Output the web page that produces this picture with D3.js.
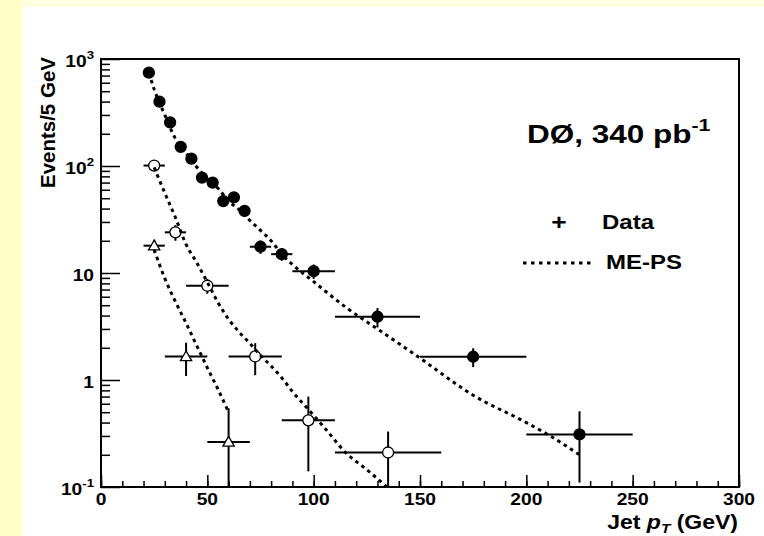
<!DOCTYPE html>
<html>
<head>
<meta charset="utf-8">
<script src="https://cdn.jsdelivr.net/npm/d3@7"></script>
<style>
  body { margin: 0; background: #fff; }
  svg { display: block; font-family: "Liberation Sans", Arial, sans-serif; font-weight: bold; }
</style>
</head>
<body>
<svg id="chart" width="764" height="536"></svg>
<script>
// leading jet (filled circles)
const jet1X = [22.5, 27.5, 32.5, 37.5, 42.5, 47.5, 52.5, 57.5, 62.5, 67.5, 75, 85, 100, 130, 175, 225]
const jet1XErr = [2.5, 2.5, 2.5, 2.5, 2.5, 2.5, 2.5, 2.5, 2.5, 2.5, 5, 5, 10, 20, 25, 25]
const jet1Y = [745, 399, 256, 151, 117, 78, 70, 47, 51, 38, 17.6, 15, 10.4, 3.9, 1.65, 0.31]
const jet1YErr = [20, 14, 11, 9, 8, 6, 6, 5, 5, 4.5, 2.5, 2, 1.6, 0.8, 0.33, 0.2]

// second jet (open circles)
const jet2X = [25, 35, 50, 72.5, 97.5, 135]
const jet2XErr = [5, 5, 10, 12.5, 12.5, 25]
const jet2Y = [101, 24, 7.6, 1.66, 0.42, 0.21]
const jet2YErr = [9, 4, 1.2, 0.55, 0.28, 0.12]

// third jet (open triangles)
const jet3X = [25, 40, 60]
const jet3XErr = [5, 10, 10]
const jet3Y = [18, 1.66, 0.264]
const jet3YErr = [2.5, 0.57, 0.28]

// ME-PS predictions
const meps1X = [22.5, 25, 30, 35, 40, 45, 50, 55, 60, 65, 70, 75, 80, 85, 90, 100, 115, 130, 150, 175, 200, 210, 225]
const meps1Y = [745, 520, 300, 180, 132, 98, 76, 62, 47, 39, 31, 25, 20, 15, 12, 8.3, 4.8, 3.0, 1.6, 0.72, 0.40, 0.31, 0.20]
const meps2X = [25, 30, 35, 40, 45, 50, 55, 60, 65, 70, 75, 80, 85, 90, 97.5, 105, 115, 125, 135]
const meps2Y = [97, 56, 33, 18.5, 12.5, 8.2, 5.3, 3.7, 2.8, 2.2, 1.7, 1.35, 1.05, 0.78, 0.53, 0.36, 0.21, 0.145, 0.098]
const meps3X = [25, 30, 35, 40, 45, 50, 55, 60]
const meps3Y = [16.5, 8.9, 5.4, 3.4, 2.1, 1.3, 0.82, 0.5]

const xTicks = [0, 50, 100, 150, 200, 250, 300]
const yTicks = [0.1, 1, 10, 100, 1000]

const frame = {left: 101, right: 739, top: 59, bottom: 487}
const stretch = 1.2   // text in the original is drawn a bit wide

const svg = d3.select('#chart')

// pad background
svg.append('rect').attr('x', 0).attr('y', 0).attr('width', 764).attr('height', 536).attr('fill', '#ffffe0')
svg.append('rect').attr('x', 0).attr('y', 0).attr('width', 22).attr('height', 536).attr('fill', '#ffffc8')
svg.append('rect').attr('x', 22).attr('y', 7).attr('width', 742).attr('height', 529).attr('fill', '#fff')

const x = d3.scaleLinear().domain([0, 300]).range([frame.left, frame.right])
const y = d3.scaleLog().domain([0.1, 1000]).range([frame.bottom, frame.top])

svg.append('clipPath').attr('id', 'clip')
  .append('rect')
    .attr('x', frame.left).attr('y', frame.top)
    .attr('width', frame.right - frame.left).attr('height', frame.bottom - frame.top)

// wide text helper
function wtext(px, py, size, anchor, sx = stretch) {
  return svg.append('g')
    .attr('transform', `translate(${px}, ${py}) scale(${sx}, 1)`)
    .append('text')
      .attr('text-anchor', anchor)
      .attr('font-size', size)
}

// ticks
const minorY = []
for (let e = -1; e < 3; e++) for (let k = 2; k < 10; k++) minorY.push(k * Math.pow(10, e))

function tickAxis(axis, tx, ty) {
  const g = svg.append('g').attr('transform', `translate(${tx}, ${ty})`).call(axis)
  g.select('.domain').remove()
  g.selectAll('line').attr('stroke', '#000').attr('stroke-width', 1.5)
  g.selectAll('text').remove()
}
tickAxis(d3.axisTop(x).tickValues(d3.range(0, 301, 10)).tickSize(6), 0, frame.bottom)
tickAxis(d3.axisTop(x).tickValues(xTicks).tickSize(12), 0, frame.bottom)
tickAxis(d3.axisRight(y).tickValues(minorY).tickSize(9), frame.left, 0)
tickAxis(d3.axisRight(y).tickValues(yTicks).tickSize(19), frame.left, 0)

// frame
svg.append('rect')
  .attr('x', frame.left).attr('y', frame.top)
  .attr('width', frame.right - frame.left).attr('height', frame.bottom - frame.top)
  .attr('fill', 'none').attr('stroke', '#000').attr('stroke-width', 2)

// tick labels
xTicks.forEach(d => wtext(x(d), 505, 16, 'middle').text(d))

yTicks.forEach(d => {
  const t = wtext(94, y(d) + 8, 16, 'end')
  const e = Math.round(Math.log10(d))
  if (e === 0 || e === 1) { t.text(d); return }
  t.append('tspan').text('10')
  t.append('tspan').attr('font-size', 11).attr('dy', -8).text(e)
})

// axis titles
svg.append('text')
  .attr('transform', `translate(55, ${frame.top - 2}) rotate(-90)`)
  .attr('text-anchor', 'end')
  .attr('font-size', 20.5)
  .text('Events/5 GeV')

const xt = wtext(738, 529, 19.5, 'end', 1.18)
xt.append('tspan').text('Jet ')
xt.append('tspan').attr('font-style', 'italic').text('p')
xt.append('tspan').attr('font-style', 'italic').attr('font-size', 13).attr('dy', 4).text('T')
xt.append('tspan').attr('dy', -4).text(' (GeV)')

// data series
const plot = svg.append('g').attr('clip-path', 'url(#clip)')

function series(xs, xe, ys, ye, marker) {
  const rows = xs.map((v, i) => ({x: v, xe: xe[i], y: ys[i], ye: ye[i]}))
  const g = plot.append('g')
  g.selectAll('line.h')
    .data(rows)
    .join('line')
      .attr('x1', d => x(d.x - d.xe)).attr('x2', d => x(d.x + d.xe))
      .attr('y1', d => y(d.y)).attr('y2', d => y(d.y))
      .attr('stroke', '#000').attr('stroke-width', 2)
  g.selectAll('line.v')
    .data(rows)
    .join('line')
      .attr('x1', d => x(d.x)).attr('x2', d => x(d.x))
      .attr('y1', d => y(d.y + d.ye))
      .attr('y2', d => y(Math.max(d.y - d.ye, 0.01)))
      .attr('stroke', '#000').attr('stroke-width', 2)
  if (marker === 'triangle') {
    g.selectAll('path.m')
      .data(rows)
      .join('path')
        .attr('d', d3.symbol(d3.symbolTriangle, 55))
        .attr('transform', d => `translate(${x(d.x)}, ${y(d.y) + 1})`)
        .attr('fill', '#fff').attr('stroke', '#000').attr('stroke-width', 1.3)
  } else {
    g.selectAll('circle')
      .data(rows)
      .join('circle')
        .attr('cx', d => x(d.x)).attr('cy', d => y(d.y))
        .attr('r', 5.5)
        .attr('fill', marker === 'filled' ? '#000' : '#fff')
        .attr('stroke', '#000').attr('stroke-width', 1.3)
  }
}
series(jet1X, jet1XErr, jet1Y, jet1YErr, 'filled')
series(jet2X, jet2XErr, jet2Y, jet2YErr, 'open')
series(jet3X, jet3XErr, jet3Y, jet3YErr, 'triangle')

const line = d3.line().x(d => x(d[0])).y(d => y(d[1])).curve(d3.curveMonotoneX)
const dotted = (xs, ys) => plot.append('path')
  .attr('d', line(xs.map((v, i) => [v, ys[i]])))
  .attr('fill', 'none').attr('stroke', '#000')
  .attr('stroke-width', 3).attr('stroke-dasharray', '3.5 4')
dotted(meps1X, meps1Y)
dotted(meps2X, meps2Y)
dotted(meps3X, meps3Y)

// legend
const lum = wtext(527, 143, 25, 'start', 1.26)
lum.append('tspan').text('DØ, 340 pb')
lum.append('tspan').attr('font-size', 17).attr('dy', -12).text('-1')

wtext(559, 230, 22, 'middle').text('+')
wtext(602, 229, 20, 'start').text('Data')
svg.append('line')
  .attr('x1', 523).attr('x2', 591).attr('y1', 263).attr('y2', 263)
  .attr('stroke', '#000').attr('stroke-width', 3).attr('stroke-dasharray', '3.5 4.5')
wtext(606, 269, 20, 'start').text('ME-PS')
</script>
</body>
</html>
